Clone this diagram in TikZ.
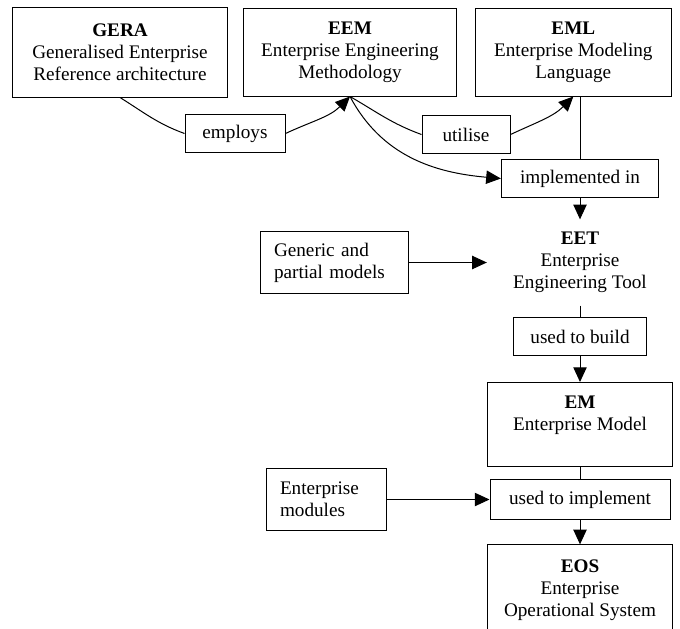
\documentclass[tikz,border=0pt]{standalone}
\usepackage{fontspec}
\setmainfont{Liberation Serif}
\usetikzlibrary{positioning,arrows.meta}
\newcommand{\colwidth}{139pt}

\begin{document}
\begin{tikzpicture}[x=0.75pt,y=-0.75pt,on grid,line width=0.75pt,
		font=\fontsize{14.4}{16.5}\selectfont,
		block/.style={draw, rectangle, align=center, inner sep=0pt},
		srcbox/.style={draw, rectangle, align=left, inner xsep=10.5pt, inner ysep=0pt},
		tip/.style={-{Triangle[length=11pt,width=10pt]}}]
		\useasboundingbox (0,0) rectangle (680,628);
		\node[block, minimum width = 161pt, minimum height = 67.5pt] (gera) at (120,52) {\textbf{GERA}\\Generalised Enterprise\\Reference architecture};
		\node[block, minimum width = 160pt, minimum height = 66pt] (eem) [right = 172.5pt of gera] {\textbf{EEM}\\Enterprise Engineering\\Methodology};
		\node[block, minimum width = 147pt, minimum height = 66pt] (eml) [right = 167.5pt of eem] {\textbf{EML}\\Enterprise Modeling\\Language};
		\node[block, minimum width = 75pt, minimum height = 29pt] (employs) at (235,133.5) {employs};
		\node[block, minimum width = 66pt, minimum height = 28pt] (utilise) at (466,134.5) {utilise};
		\node[block, minimum width = 118pt, minimum height = 29pt] (impl) at (580,178.5) {implemented in};
		\node[align = center, minimum width = \colwidth, minimum height = 64pt, inner sep=0pt] (eet) [below = 63pt of impl] {\textbf{EET}\\Enterprise\\Engineering Tool};
		\node[srcbox, text width = 90pt, minimum height = 46pt] (generic) [left = 184.5pt of eet] {Generic and\\partial models};
		\node[block, minimum width = 100pt, minimum height = 29pt] (build) [below = 55.5pt of eet] {used to build};
		\node[block, minimum width = \colwidth, minimum height = 63pt] (em) [below = 66pt of build] {\textbf{EM}\\Enterprise Model\\\mbox{}};
		\node[block, minimum width = 135pt, minimum height = 30pt] (implement) [below = 56.25pt of em] {used to implement};
		\node[srcbox, text width = 69pt, minimum height = 46.5pt] (modules) [left = 190.5pt of implement] {Enterprise\\modules};
		\node[block, minimum width = \colwidth, minimum height = 68pt] (eos) [below = 68pt of implement] {\textbf{EOS}\\Enterprise\\Operational System};
		\path
			(gera.south) edge [out=-32, in=160] (employs.west)
			(eem.south) edge [out=-30, in=160] (utilise.west)
			(impl.north) edge (impl.north |- eml.south)
			(eet) edge (build)
			(em) edge (implement)
		;
		\path[tip]
			(employs.east) edge [out=25, in=-135] (eem.south)
			(utilise.east) edge [out=25, in=-135] (eml.south)
			(eem.south) edge [out=-62, in=175] (impl.west)
			(impl) edge (eet)
			(generic) edge (eet)
			(build) edge (em)
			(modules) edge (implement)
			(implement) edge (eos)
		;
	\end{tikzpicture}
\end{document}
